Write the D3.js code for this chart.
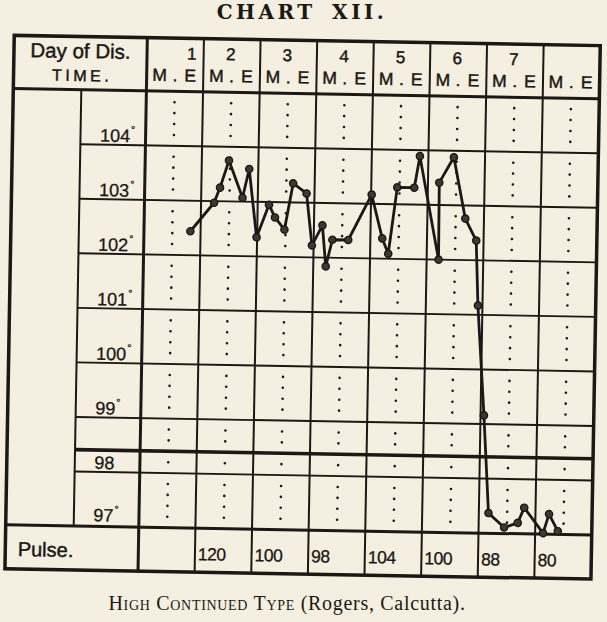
<!DOCTYPE html>
<html>
<head>
<meta charset="utf-8">
<script src="https://cdn.jsdelivr.net/npm/d3@7"></script>
<style>
  html, body { margin: 0; padding: 0; background: #f4efe0; }
  svg { display: block; }
</style>
</head>
<body>
<main></main>
<script>
// data
let dayLabels = ["1", "2", "3", "4", "5", "6", "7", ""]
let halfLabels = ["M", ".", "E"]
let tempTicks = [104, 103, 102, 101, 100, 99, 98, 97]
let normalTemp = 98.4
let pulse = ["", "120", "100", "98", "104", "100", "88", "80"]

// time in days from start of column 1, temperature in F
let obsDay = [0.82, 1.23, 1.33, 1.48, 1.73, 1.84, 1.99, 2.20, 2.31, 2.48, 2.62, 2.86, 2.97,
    3.15, 3.22, 3.33, 3.61, 4.01, 4.21, 4.32, 4.46, 4.76, 4.85, 5.21, 5.20, 5.45, 5.67,
    5.87, 5.92, 6.06, 6.17, 6.45, 6.69, 6.80, 7.14, 7.24, 7.40]
let obsTemp = [102.44, 102.97, 103.25, 103.75, 103.07, 103.6, 102.35, 102.95, 102.72, 102.5,
    103.35, 103.17, 102.22, 102.59, 101.84, 102.33, 102.33, 103.17, 102.37, 102.09, 103.31,
    103.31, 103.89, 102.0, 103.41, 103.88, 102.76, 102.36, 101.17, 99.16, 97.37, 97.11, 97.2,
    97.48, 97.02, 97.37, 97.06]

let ink = "#1b1815"
let paper = "#f4efe0"
let sans = "'Liberation Sans', Arial, sans-serif"
let serif = "'Liberation Serif', 'DejaVu Serif', serif"

let svg = d3.select("main")
    .append("svg")
    .attr("width", 607)
    .attr("height", 622)

svg.append("rect")
    .attr("width", 607)
    .attr("height", 622)
    .attr("fill", paper)

svg.append("text")
    .attr("x", 302)
    .attr("y", 19)
    .attr("text-anchor", "middle")
    .style("font-family", "'DejaVu Serif', 'Liberation Serif', serif")
    .style("font-weight", "bold")
    .style("font-size", "20px")
    .style("letter-spacing", "3.5px")
    .style("word-spacing", "6px")
    .attr("fill", ink)
    .text("CHART XII.")

let cap = svg.append("text")
    .attr("x", 287)
    .attr("y", 610)
    .attr("text-anchor", "middle")
    .style("font-family", serif)
    .style("font-size", "20px")
    .style("letter-spacing", "0.7px")
    .attr("fill", ink)
cap.append("tspan")
    .style("font-variant", "small-caps")
    .text("High Continued Type ")
cap.append("tspan")
    .text("(Rogers, Calcutta).")

// the scanned page is turned about one degree
let g = svg.append("g")
    .attr("transform", "rotate(1, 304, 310)")

let tLeft = 9.5, tTop = 40.5, tRight = 595.6, tBottom = 574, labelCol = 77.5

let x = d3.scaleLinear().domain([0, 8]).range([142.6, tRight])
let y = d3.scaleLinear().domain([97, 105]).range([530, 93.6])

function hline(y0, x0, x1, w) {
    g.append("line")
        .attr("x1", x0).attr("x2", x1)
        .attr("y1", y0).attr("y2", y0)
        .attr("stroke", ink)
        .attr("stroke-width", w)
}
function vline(x0, y0, y1, w) {
    g.append("line")
        .attr("x1", x0).attr("x2", x0)
        .attr("y1", y0).attr("y2", y1)
        .attr("stroke", ink)
        .attr("stroke-width", w)
}

// dotted line down the middle of every day (0.2 degree marks)
let dotTemps = d3.range(970, 1050, 2)
    .filter(v => v % 10 !== 0 && v !== normalTemp * 10)
    .map(v => v / 10)
d3.range(8).forEach(i => {
    g.selectAll(null)
        .data(dotTemps)
        .enter()
        .append("circle")
        .attr("cx", x(i + 0.5))
        .attr("cy", d => y(d))
        .attr("r", 1.3)
        .attr("fill", ink)
})

// grid
tempTicks.filter(t => t > 97).forEach(t => hline(y(t), labelCol, tRight, 1.9))
hline(y(normalTemp), labelCol, tRight, 3.6)
hline(y(105), tLeft, tRight, 3)
hline(y(97), tLeft, tRight, 3)
vline(labelCol, y(105), y(97), 2)
d3.range(8).forEach(i => vline(x(i), tTop, tBottom, i === 0 ? 3 : 2))

g.append("rect")
    .attr("x", tLeft).attr("y", tTop)
    .attr("width", tRight - tLeft).attr("height", tBottom - tTop)
    .attr("fill", "none")
    .attr("stroke", ink)
    .attr("stroke-width", 3.5)

// header
let txt = (sel) => sel.attr("fill", ink)
    .attr("stroke", ink)
    .attr("stroke-width", 0.45)
    .style("font-family", sans)

g.append("text").call(txt)
    .attr("x", (tLeft + x(0)) / 2)
    .attr("y", 62)
    .attr("text-anchor", "middle")
    .style("font-size", "20.5px")
    .text("Day of Dis.")

g.append("text").call(txt)
    .attr("x", (tLeft + x(0)) / 2 + 2)
    .attr("y", 85)
    .attr("text-anchor", "middle")
    .style("font-size", "16px")
    .style("letter-spacing", "3.5px")
    .text("TIME.")

g.selectAll(null)
    .data(dayLabels)
    .enter()
    .append("text").call(txt)
    // day 1 only starts in the evening, its number sits over the E
    .attr("x", (d, i) => x(i + (i === 0 ? 0.79 : 0.48)))
    .attr("y", 61.5)
    .attr("text-anchor", "middle")
    .style("font-size", "17px")
    .text(d => d)

let halfPos = [0.23, 0.5, 0.77]
d3.range(8).forEach(i => {
    g.selectAll(null)
        .data(halfLabels)
        .enter()
        .append("text").call(txt)
        .attr("x", (d, k) => x(i + halfPos[k]))
        .attr("y", 83.5)
        .attr("text-anchor", "middle")
        .style("font-size", "17.5px")
        .text(d => d)
})

// temperature labels
let tl = g.selectAll(null)
    .data(tempTicks)
    .enter()
    .append("text").call(txt)
    .attr("stroke-width", 0.3)
    .attr("x", 97)
    .attr("y", d => y(d) - (d === 97 ? 5 : 3))
    .style("font-size", "18px")
    .text(d => d)
tl.filter(d => d !== 98)
    .append("tspan")
    .attr("dx", 1)
    .attr("dy", -9)
    .style("font-size", "10px")
    .text("°")

// pulse row
g.append("text").call(txt)
    .attr("x", 22)
    .attr("y", 561)
    .style("font-size", "20px")
    .text("Pulse.")

g.selectAll(null)
    .data(pulse)
    .enter()
    .append("text").call(txt)
    .attr("stroke-width", 0.3)
    .attr("x", (d, i) => x(i) + 3)
    .attr("y", 562)
    .style("font-size", "17.5px")
    .style("letter-spacing", "-0.5px")
    .text(d => d)

// temperature curve
let pts = obsDay.map((d, i) => [d, obsTemp[i]])

g.append("path")
    .datum(pts)
    .attr("fill", "none")
    .attr("stroke", ink)
    .attr("stroke-width", 2.8)
    .attr("stroke-linejoin", "round")
    .attr("d", d3.line().x(d => x(d[0])).y(d => y(d[1])))

g.selectAll(null)
    .data(pts)
    .enter()
    .append("circle")
    .attr("cx", d => x(d[0]))
    .attr("cy", d => y(d[1]))
    .attr("r", 3.6)
    .attr("fill", "#3d3833")
    .attr("stroke", ink)
    .attr("stroke-width", 1.4)
</script>
</body>
</html>
